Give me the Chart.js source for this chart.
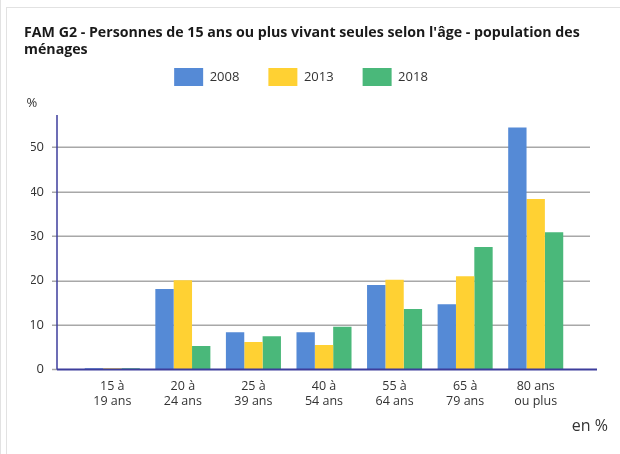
<!DOCTYPE html>
<html lang="fr">
<head>
<meta charset="utf-8">
<title>FAM G2</title>
<script src="https://cdn.jsdelivr.net/npm/chart.js@4.4.1/dist/chart.umd.min.js"></script>
<style>
  html, body { margin: 0; padding: 0; background: #fff; }
  #wrap { position: relative; width: 620px; height: 454px; overflow: hidden; }
  #edge { position: absolute; left: 0; top: 0; width: 1px; height: 454px; background: #e2e2e2; }
  #card { position: absolute; left: 6px; top: 7px; width: 700px; height: 600px;
          border-left: 1px solid #e2e2e2; border-top: 1px solid #e2e2e2; }
  canvas { position: absolute; left: 0; top: 0; }
</style>
</head>
<body>
<div id="wrap">
  <div id="edge"></div>
  <div id="card"></div>
  <canvas id="graphique" width="620" height="454"></canvas>
</div>
<script>
// Données (en %)
const titre = ["FAM G2 - Personnes de 15 ans ou plus vivant seules selon l'âge - population des", "ménages"];
const categories = [
  ['15 à', '19 ans'], ['20 à', '24 ans'], ['25 à', '39 ans'], ['40 à', '54 ans'],
  ['55 à', '64 ans'], ['65 à', '79 ans'], ['80 ans', 'ou plus']
];
const annees = ['2008', '2013', '2018'];
const valeurs2008 = [0.3, 18.1, 8.4, 8.4, 19.0, 14.7, 54.5];
const valeurs2013 = [0.3, 20.1, 6.2, 5.5, 20.2, 21.0, 38.4];
const valeurs2018 = [0.3, 5.3, 7.5, 9.6, 13.6, 27.6, 30.9];
const graduations = [0, 10, 20, 30, 40, 50];

const couleurs = ['#558ad6', '#ffd133', '#4ab87a'];

Chart.defaults.font.family = '"Open Sans", sans-serif';
Chart.defaults.color = '#333';

// Grille, axes et textes dessinés à la main (comme l'original)
const decor = {
  id: 'decor',
  beforeDatasetsDraw(chart) {
    const ctx = chart.ctx;
    const y = chart.scales.y;
    const a = chart.chartArea;
    ctx.save();
    ctx.strokeStyle = '#a8a8a8';
    ctx.lineWidth = 1.5;
    graduations.forEach(v => {
      if (v === 0) return;
      const py = Math.round(y.getPixelForValue(v)) + 0.25;
      ctx.beginPath();
      ctx.moveTo(a.left - 25, py);
      ctx.lineTo(a.right + 19, py);
      ctx.stroke();
    });
    // petit trait de graduation à zéro
    const p0 = y.getPixelForValue(0);
    ctx.beginPath();
    ctx.moveTo(a.left - 25, p0);
    ctx.lineTo(a.left - 20, p0);
    ctx.stroke();
    ctx.restore();
  },
  afterDatasetsDraw(chart) {
    const ctx = chart.ctx;
    const y = chart.scales.y;
    const a = chart.chartArea;
    const p0 = y.getPixelForValue(0);
    ctx.save();
    ctx.strokeStyle = '#3d3d9c';
    ctx.lineWidth = 2;
    ctx.beginPath();
    ctx.moveTo(a.left - 20, p0);
    ctx.lineTo(a.right + 26, p0);
    ctx.stroke();
    ctx.lineWidth = 1.5;
    ctx.beginPath();
    ctx.moveTo(a.left - 20, a.top);
    ctx.lineTo(a.left - 20, p0);
    ctx.stroke();
    ctx.restore();
  },
  afterDraw(chart) {
    const ctx = chart.ctx;
    ctx.save();
    ctx.fillStyle = '#1a1a1a';
    ctx.textAlign = 'left';
    ctx.textBaseline = 'alphabetic';
    ctx.font = 'bold 14.2px "Open Sans"';
    ctx.fillText(titre[0], 24, 37);
    ctx.fillText(titre[1], 24, 53.5);
    ctx.fillStyle = '#333';
    ctx.font = '13px "Open Sans"';
    ctx.textBaseline = 'middle';
    ctx.fillText('%', 26.5, 103.5);
    ctx.font = '16px "Open Sans"';
    ctx.textAlign = 'right';
    ctx.fillText('en %', 608, 426);
    ctx.restore();
  }
};

const ctx = document.getElementById('graphique').getContext('2d');

new Chart(ctx, {
  type: 'bar',
  data: {
    labels: categories,
    datasets: [
      { label: annees[0], data: valeurs2008, backgroundColor: couleurs[0] },
      { label: annees[1], data: valeurs2013, backgroundColor: couleurs[1] },
      { label: annees[2], data: valeurs2018, backgroundColor: couleurs[2] }
    ]
  },
  options: {
    responsive: false,
    animation: false,
    layout: {
      padding: { left: 31, right: 49, top: 39, bottom: 0 }
    },
    datasets: {
      bar: {
        categoryPercentage: 0.78,
        barPercentage: 1,
        borderWidth: 0
      }
    },
    plugins: {
      legend: {
        display: true,
        position: 'top',
        labels: {
          boxWidth: 29,
          boxHeight: 18,
          padding: 29,
          color: '#333',
          font: { size: 13 }
        }
      },
      // espace vide sous la légende (pour le "%")
      subtitle: {
        display: true,
        text: [],
        weight: 500,
        padding: { top: 0, bottom: 19 }
      },
      tooltip: { enabled: false }
    },
    scales: {
      x: {
        grid: { display: false, drawTicks: false },
        border: { display: false },
        ticks: {
          color: '#333',
          padding: 9,
          maxRotation: 0,
          font: { size: 12.5, lineHeight: 1.24 }
        },
        afterFit: s => { s.height = 84.5; }
      },
      y: {
        min: 0,
        max: 57.3,
        grid: { display: false, drawTicks: false },
        border: { display: false },
        ticks: {
          stepSize: 10,
          padding: 33,
          color: '#333',
          font: { size: 13 },
          callback: v => String(v)
        },
        afterBuildTicks: s => {
          s.ticks = graduations.map(v => ({ value: v }));
        },
        afterFit: s => { s.width = 46; }
      }
    }
  },
  plugins: [decor]
});
</script>
</body>
</html>
